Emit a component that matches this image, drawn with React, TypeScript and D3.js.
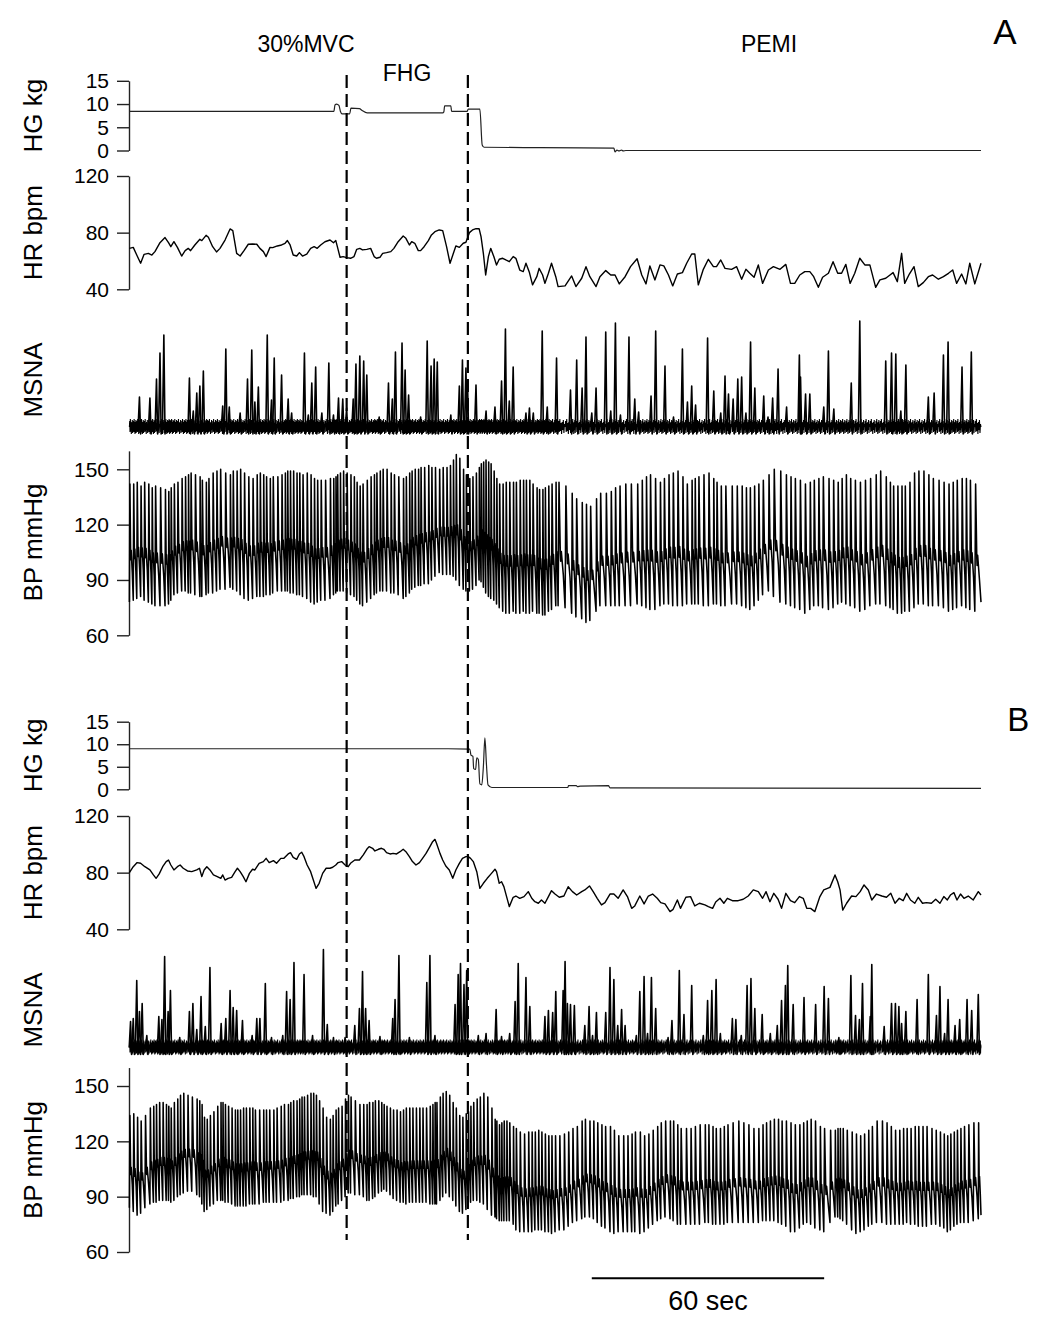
import React, { useEffect, useRef } from "react";
import * as d3 from "d3";

const W = 1050;
const H = 1326;
const T_END = 220; // seconds shown

// phase boundaries (s) and 60-s scale bar
const phaseEvents = [56.2, 87.5];
const scaleBarSec = [119.5, 179.5];

// ---------- Panel A ----------
const hgA: [number, number][] = [[0,8.4],[52.9,8.4],[53.2,9.8],[53.6,10.0],[54.2,9.7],[54.6,8.4],[55.0,7.9],[57.0,7.9],[57.3,9.1],[59.5,9.0],[60.2,8.6],[61.5,8.1],[81.0,8.1],[81.3,8.3],[81.5,9.6],[83.1,9.6],[83.3,8.4],[87.3,8.4],[87.6,8.9],[90.6,8.9],[91.2,1.2],[91.7,0.7],[106,0.6],[125.2,0.5],[125.5,-0.3],[126.0,0.1],[126.5,-0.1],[127.2,0.1],[127.6,-0.1],[128.3,0.0],[220,0.0]];

const hrA: [number, number][] = [[0.1,68.9],[1.1,69.6],[2.0,64.2],[3.0,58.4],[3.9,64.7],[5.0,65.4],[5.9,64.2],[6.7,66.6],[8.0,72.9],[9.3,76.5],[10.2,72.9],[10.8,70.1],[11.6,73.6],[12.5,69.6],[13.6,63.5],[14.5,67.3],[15.3,68.9],[15.9,67.3],[17.0,71.3],[18.3,75.3],[18.8,74.4],[19.9,78.1],[20.5,76.7],[21.6,70.1],[22.6,66.4],[23.5,68.9],[24.8,74.8],[26.1,82.6],[26.8,81.4],[27.8,65.4],[28.7,63.5],[29.7,67.3],[30.8,71.8],[31.9,72.0],[33.0,71.8],[33.8,68.9],[34.7,66.6],[35.4,63.1],[36.4,69.6],[37.1,69.4],[38.3,70.6],[39.4,71.3],[40.3,72.5],[40.9,74.4],[41.6,71.3],[42.4,64.2],[43.3,63.5],[44.0,65.9],[44.8,63.5],[45.9,64.9],[46.9,68.9],[47.8,70.1],[48.6,68.9],[49.5,71.3],[50.6,73.6],[51.9,74.8],[52.8,72.9],[53.4,74.4],[53.8,70.1],[54.5,62.6],[55.3,63.1],[56.2,62.4],[57.2,61.9],[58.1,63.1],[58.8,68.2],[59.6,68.9],[60.3,67.8],[61.4,68.2],[62.4,68.9],[63.3,63.1],[63.9,61.9],[64.8,62.6],[65.5,65.4],[66.5,65.9],[67.6,66.6],[68.4,68.9],[69.5,73.6],[70.8,77.6],[71.5,76.0],[72.4,71.3],[73.0,73.6],[73.8,72.5],[74.7,67.3],[75.3,67.3],[76.2,70.1],[77.3,74.4],[78.1,78.4],[79.0,80.7],[80.1,81.9],[81.0,81.4],[82.0,70.1],[82.9,58.4],[83.7,64.9],[84.4,70.6],[85.3,69.6],[86.3,72.5],[87.0,73.2],[87.9,80.0],[88.7,81.9],[89.6,82.8],[90.4,82.8],[90.9,77.2],[91.5,65.4],[92.1,50.1],[92.8,63.1],[93.4,68.9],[94.2,63.1],[94.9,57.2],[95.6,61.2],[96.5,61.9],[97.3,60.7],[98.2,59.5],[99.2,63.1],[99.9,61.9],[100.9,53.6],[101.8,52.5],[102.5,58.4],[103.4,51.8],[104.2,43.1],[105.3,48.9],[105.9,54.8],[106.8,50.1],[107.4,44.2],[108.3,51.3],[109.1,58.4],[110.2,48.9],[110.8,41.9],[112.6,42.4],[114.3,49.4],[115.4,41.9],[116.9,47.8],[118.0,56.0],[119.0,48.9],[120.6,41.9],[121.6,48.9],[123.1,53.2],[124.4,50.1],[125.5,50.1],[126.6,43.8],[128.1,48.9],[129.5,56.0],[131.2,61.6],[132.4,50.1],[133.5,43.8],[134.5,56.5],[135.8,46.6],[137.1,57.2],[138.1,56.5],[139.3,50.1],[140.4,42.4],[141.6,50.8],[142.9,51.8],[144.0,58.4],[145.3,64.9],[146.1,64.9],[147.0,43.1],[148.3,54.1],[149.6,61.2],[150.9,56.0],[151.7,56.0],[152.8,60.7],[153.9,54.8],[155.6,54.1],[156.9,56.0],[158.2,47.1],[159.3,54.1],[160.3,51.3],[161.4,48.5],[162.5,57.2],[163.6,44.2],[165.1,53.6],[166.4,56.0],[168.1,54.1],[169.6,57.6],[170.8,44.2],[171.9,44.2],[173.2,50.1],[174.5,52.5],[175.8,52.5],[176.8,48.9],[178.0,41.4],[179.1,48.5],[180.6,51.3],[181.8,59.5],[183.0,51.3],[184.0,51.3],[185.1,57.6],[186.2,44.2],[187.4,51.3],[188.7,61.9],[190.0,57.2],[191.3,57.2],[192.8,41.4],[193.9,46.6],[195.4,47.8],[196.5,50.1],[197.3,51.8],[198.4,45.4],[199.5,65.4],[200.3,44.2],[201.5,50.8],[202.7,56.0],[203.8,41.9],[205.1,44.7],[206.4,48.9],[207.5,50.1],[209.0,47.1],[210.3,48.9],[211.6,51.3],[212.7,53.6],[213.7,44.2],[215.0,50.8],[216.1,43.8],[217.1,58.4],[218.4,43.8],[220.0,58.4]];

// beat: [time s, systolic mmHg, diastolic mmHg]
const bpA: [number, number, number][] = [[0.1,142,78],[1.1,142,79],[2.0,143,80],[3.0,141,81],[3.9,143,79],[5.0,142,78],[5.9,140,77],[6.7,141,76],[8.0,140,76],[9.3,139,76],[10.2,138,77],[10.8,140,79],[11.6,142,82],[12.5,143,83],[13.6,145,84],[14.5,146,84],[15.3,147,83],[15.9,148,83],[17.0,147,82],[18.3,146,81],[18.8,144,81],[19.9,143,82],[20.5,145,83],[21.6,148,83],[22.6,149,84],[23.5,150,85],[24.8,148,85],[26.1,147,86],[26.8,149,85],[27.8,149,84],[28.7,150,82],[29.7,148,80],[30.8,146,79],[31.9,145,80],[33.0,147,81],[33.8,148,81],[34.7,147,81],[35.4,146,82],[36.4,145,82],[37.1,146,83],[38.3,146,84],[39.4,147,84],[40.3,148,84],[40.9,149,84],[41.6,149,83],[42.4,149,83],[43.3,148,82],[44.0,148,82],[44.8,147,81],[45.9,148,80],[46.9,147,78],[47.8,145,77],[48.6,144,78],[49.5,144,79],[50.6,144,79],[51.9,145,80],[52.8,145,82],[53.4,146,83],[53.8,147,84],[54.5,148,84],[55.3,149,84],[56.2,148,83],[57.2,147,82],[58.1,146,81],[58.8,143,79],[59.6,141,77],[60.3,142,76],[61.4,144,78],[62.4,146,80],[63.3,147,82],[63.9,148,83],[64.8,149,84],[65.5,150,84],[66.5,150,84],[67.6,148,83],[68.4,147,83],[69.5,146,82],[70.8,145,80],[71.5,146,81],[72.4,148,83],[73.0,149,85],[73.8,150,86],[74.7,150,87],[75.3,151,87],[76.2,151,88],[77.3,152,88],[78.1,151,90],[79.0,151,92],[80.1,150,94],[81.0,151,93],[82.0,151,93],[82.9,152,93],[83.7,155,92],[84.4,158,90],[85.3,156,87],[86.3,150,85],[87.0,147,84],[87.9,145,84],[88.7,146,85],[89.6,148,87],[90.4,151,90],[90.9,153,89],[91.5,154,86],[92.1,155,83],[92.8,154,81],[93.4,153,80],[94.2,149,79],[94.9,145,77],[95.6,142,75],[96.5,142,73],[97.3,143,72],[98.2,143,72],[99.2,143,73],[99.9,143,72],[100.9,144,72],[101.8,144,73],[102.5,144,72],[103.4,144,72],[104.2,142,73],[105.3,140,72],[105.9,139,72],[106.8,139,71],[107.4,140,71],[108.3,141,73],[109.1,142,74],[110.2,143,76],[110.8,143,76],[112.6,141,75],[114.3,137,72],[115.4,134,70],[116.9,132,69],[118.0,131,67],[119.0,130,68],[120.6,134,73],[121.6,137,76],[123.1,137,76],[124.4,138,76],[125.5,140,76],[126.6,141,76],[128.1,142,76],[129.5,142,76],[131.2,142,77],[132.4,144,76],[133.5,146,75],[134.5,147,74],[135.8,145,74],[137.1,143,76],[138.1,145,77],[139.3,147,77],[140.4,148,76],[141.6,149,76],[142.9,146,76],[144.0,142,77],[145.3,144,77],[146.1,145,77],[147.0,146,77],[148.3,147,76],[149.6,148,76],[150.9,145,77],[151.7,143,77],[152.8,141,76],[153.9,141,76],[155.6,141,77],[156.9,141,77],[158.2,141,76],[159.3,140,75],[160.3,140,74],[161.4,141,76],[162.5,142,79],[163.6,144,82],[165.1,147,84],[166.4,150,81],[168.1,149,78],[169.6,147,77],[170.8,146,76],[171.9,145,75],[173.2,144,74],[174.5,142,72],[175.8,143,74],[176.8,144,76],[178.0,145,76],[179.1,146,75],[180.6,145,74],[181.8,144,75],[183.0,143,77],[184.0,145,78],[185.1,147,77],[186.2,145,76],[187.4,144,75],[188.7,143,73],[190.0,144,74],[191.3,145,76],[192.8,147,77],[193.9,149,77],[195.4,146,76],[196.5,143,75],[197.3,141,74],[198.4,141,72],[199.5,141,72],[200.3,141,73],[201.5,143,73],[202.7,148,75],[203.8,149,77],[205.1,149,77],[206.4,147,76],[207.5,145,76],[209.0,144,76],[210.3,143,75],[211.6,142,73],[212.7,143,74],[213.7,144,75],[215.0,145,76],[216.1,145,75],[217.1,144,74],[218.4,142,73],[220.0,141,78]];

// MSNA bursts: [time s, amplitude a.u.]
const msnaA: [number, number][] = [[2.7,30],[5.4,29],[7.1,48],[8.0,74],[9.0,92],[15.6,49],[16.6,16],[17.5,34],[18.3,41],[19.2,56],[24.2,21],[25.0,78],[25.9,20],[28.7,14],[30.6,48],[31.7,77],[32.5,25],[33.4,40],[35.7,92],[36.8,27],[37.5,69],[39.4,52],[41.1,28],[42.0,14],[45.3,74],[46.3,12],[47.2,44],[48.2,60],[49.8,14],[51.6,64],[52.8,12],[54.1,29],[55.2,28],[56.2,19],[57.9,28],[58.6,63],[59.6,71],[60.6,66],[61.4,52],[64.6,10],[67.0,44],[68.0,28],[68.8,75],[70.5,84],[71.3,57],[72.2,32],[75.3,10],[77.0,86],[78.0,61],[78.8,68],[79.6,65],[83.1,12],[85.3,41],[86.1,67],[87.0,59],[87.4,47],[89.6,42],[92.2,16],[94.5,20],[96.2,46],[97.2,98],[98.2,26],[99.2,60],[102.5,14],[103.4,19],[104.4,14],[106.7,96],[108.0,20],[110.4,69],[114.0,37],[115.6,67],[117.0,39],[118.0,90],[119.5,14],[120.6,39],[123.1,95],[124.4,16],[125.6,104],[126.9,12],[129.1,90],[130.6,28],[131.6,15],[134.8,31],[136.0,96],[138.4,61],[140.6,10],[142.9,78],[144.2,25],[145.3,41],[146.3,22],[149.4,89],[151.0,36],[152.8,14],[153.9,51],[154.8,33],[156.0,28],[157.2,48],[158.2,50],[159.3,14],[160.5,85],[161.6,39],[163.9,31],[165.0,10],[166.2,29],[167.6,58],[169.8,20],[173.1,72],[173.4,50],[174.7,33],[175.8,33],[179.4,20],[180.6,76],[182.0,18],[186.5,44],[188.7,106],[195.4,66],[196.9,74],[198.0,73],[199.3,16],[200.6,62],[206.4,30],[207.9,34],[210.3,72],[211.5,85],[215.1,60],[217.5,75]];

// ---------- Panel B ----------
const hgB: [number, number][] = [[0,9.0],[82.4,9.0],[88.0,8.9],[88.3,7.6],[88.8,7.3],[89.0,4.6],[89.5,4.4],[89.8,7.0],[90.2,6.6],[90.6,1.2],[91.1,1.0],[91.5,5.0],[91.9,11.4],[92.3,5.5],[92.7,1.0],[93.7,0.4],[113.3,0.4],[113.5,0.8],[115.5,0.8],[115.8,0.6],[116.5,0.7],[123.8,0.8],[124.2,0.3],[220,0.2]];

const hrB: [number, number][] = [[0.1,80.0],[1.1,84.2],[2.1,87.1],[3.0,86.6],[4.1,84.2],[5.4,81.9],[6.3,78.4],[7.0,76.0],[7.8,79.1],[8.7,84.2],[9.6,87.8],[10.2,88.9],[10.8,85.4],[11.6,81.9],[12.5,84.2],[13.2,85.4],[14.0,83.1],[15.1,81.2],[16.2,80.7],[17.5,81.9],[18.2,83.1],[18.8,77.2],[19.4,81.9],[20.1,84.2],[20.9,81.9],[21.8,78.4],[22.8,77.2],[23.7,76.0],[24.2,78.4],[24.8,74.8],[25.6,76.0],[26.5,76.7],[27.4,80.7],[28.0,83.1],[28.7,80.7],[29.5,77.2],[30.2,73.6],[31.1,79.5],[31.9,82.4],[32.5,81.9],[33.6,86.6],[34.7,87.8],[35.4,90.1],[36.2,87.1],[37.3,88.5],[38.1,86.6],[39.2,90.1],[40.0,90.1],[41.1,93.2],[41.7,94.1],[42.4,90.8],[43.3,89.4],[44.0,93.2],[44.6,94.4],[45.2,91.3],[46.0,85.4],[46.9,80.7],[47.6,74.8],[48.3,68.9],[49.1,72.5],[50.0,79.5],[50.9,83.1],[51.9,83.1],[52.6,83.8],[53.4,85.4],[54.0,87.1],[54.9,87.8],[55.8,85.4],[56.6,84.2],[57.2,86.6],[58.3,88.9],[59.5,88.9],[60.5,92.5],[61.4,96.5],[62.0,98.4],[62.9,97.2],[63.5,95.3],[64.4,96.5],[65.2,97.2],[65.8,96.5],[66.5,94.1],[67.4,93.2],[68.2,93.6],[69.1,93.2],[70.0,94.8],[70.8,96.5],[71.5,94.8],[72.4,91.3],[73.2,87.8],[74.1,85.4],[75.0,87.1],[75.8,90.1],[76.7,93.6],[77.7,98.4],[78.4,101.9],[79.0,103.5],[79.4,100.7],[80.3,93.6],[81.0,88.9],[81.8,84.7],[82.7,81.9],[83.6,76.0],[84.4,81.9],[85.3,86.6],[86.1,90.1],[87.0,91.3],[87.6,91.3],[88.2,90.1],[88.9,87.8],[89.8,80.7],[90.6,68.9],[91.5,72.5],[92.5,76.0],[93.6,79.5],[94.5,82.4],[94.9,80.7],[95.6,72.5],[96.2,73.6],[96.8,70.1],[97.5,63.1],[98.2,56.0],[99.2,62.6],[99.9,63.5],[100.9,61.9],[102.0,63.1],[103.1,66.6],[104.0,61.9],[104.8,59.5],[105.7,58.4],[106.5,60.7],[107.4,58.4],[108.3,63.1],[109.1,67.3],[110.0,64.9],[111.1,62.6],[112.3,63.5],[113.4,70.1],[114.5,66.6],[115.6,64.2],[116.9,66.6],[117.7,67.8],[118.9,70.6],[119.9,66.4],[120.9,61.9],[122.0,57.2],[122.9,58.8],[124.2,64.9],[125.2,64.9],[126.3,61.9],[127.6,67.8],[128.7,63.1],[129.8,54.8],[130.6,56.5],[131.9,63.5],[133.0,57.9],[134.1,63.5],[135.2,64.9],[136.4,61.9],[137.3,58.8],[138.4,57.9],[139.7,52.5],[140.5,54.1],[141.6,60.7],[142.4,54.8],[143.8,62.6],[145.0,63.1],[146.1,56.5],[147.3,58.4],[148.7,57.2],[149.6,56.0],[150.7,54.8],[151.5,59.3],[152.6,61.9],[153.6,58.4],[154.5,61.9],[155.8,60.2],[157.3,60.2],[158.6,61.2],[159.9,63.5],[161.2,67.8],[162.5,66.6],[163.6,61.9],[164.5,66.6],[165.5,59.5],[166.5,65.4],[167.6,61.2],[168.5,54.8],[169.6,65.4],[170.8,60.2],[171.9,58.8],[173.1,63.1],[174.1,61.9],[175.0,54.8],[176.0,54.8],[177.1,52.5],[178.4,63.1],[179.4,67.8],[181.0,69.6],[182.3,78.4],[183.0,73.6],[183.6,67.8],[184.3,53.6],[185.3,58.4],[186.6,63.5],[187.7,63.1],[188.8,66.6],[189.8,71.3],[190.9,67.8],[191.8,60.7],[193.0,64.9],[194.4,63.5],[195.6,62.6],[196.7,65.4],[197.8,58.4],[198.9,61.9],[199.9,60.2],[200.8,65.4],[201.8,60.7],[202.9,58.4],[203.8,62.6],[204.9,58.4],[205.9,58.8],[207.2,58.4],[208.3,61.2],[209.4,58.4],[210.4,63.1],[211.3,60.7],[212.1,64.2],[213.0,65.9],[213.8,60.7],[214.7,64.9],[215.6,61.9],[216.7,63.5],[218.0,60.7],[219.3,66.6],[220.0,64.2]];

const bpB: [number, number, number][] = [[0.1,134,84],[1.1,135,82],[2.1,133,80],[3.0,131,81],[4.1,134,84],[5.4,138,86],[6.3,139,87],[7.0,140,87],[7.8,141,88],[8.7,141,88],[9.6,140,88],[10.2,139,88],[10.8,138,87],[11.6,141,88],[12.5,143,90],[13.2,145,91],[14.0,146,92],[15.1,145,93],[16.2,144,93],[17.5,143,91],[18.2,142,90],[18.8,140,86],[19.4,133,82],[20.1,132,83],[20.9,134,85],[21.8,136,86],[22.8,139,88],[23.7,141,88],[24.2,141,88],[24.8,140,87],[25.6,139,87],[26.5,138,86],[27.4,137,85],[28.0,137,85],[28.7,137,85],[29.5,138,85],[30.2,138,85],[31.1,138,86],[31.9,138,86],[32.5,137,86],[33.6,137,86],[34.7,137,87],[35.4,137,87],[36.2,137,87],[37.3,137,87],[38.1,138,87],[39.2,139,87],[40.0,140,88],[41.1,140,88],[41.7,141,89],[42.4,142,89],[43.3,142,90],[44.0,143,90],[44.6,144,91],[45.2,144,91],[46.0,145,91],[46.9,146,91],[47.6,146,90],[48.3,145,90],[49.1,142,86],[50.0,138,82],[50.9,133,81],[51.9,132,80],[52.6,134,82],[53.4,137,85],[54.0,138,86],[54.9,139,88],[55.8,143,90],[56.6,145,92],[57.2,144,92],[58.3,142,91],[59.5,140,91],[60.5,140,90],[61.4,140,88],[62.0,141,88],[62.9,141,89],[63.5,142,90],[64.4,142,92],[65.2,141,93],[65.8,140,94],[66.5,139,93],[67.4,138,91],[68.2,137,89],[69.1,137,88],[70.0,136,87],[70.8,137,87],[71.5,138,86],[72.4,138,87],[73.2,138,87],[74.1,138,87],[75.0,138,87],[75.8,138,87],[76.7,138,87],[77.7,139,86],[78.4,140,86],[79.0,141,86],[79.4,141,86],[80.3,144,88],[81.0,146,90],[81.8,147,92],[82.7,145,90],[83.6,141,88],[84.4,138,85],[85.3,134,82],[86.1,133,81],[87.0,135,83],[87.6,136,85],[88.2,139,87],[88.9,141,88],[89.8,143,88],[90.6,144,87],[91.5,146,86],[92.5,144,83],[93.6,138,80],[94.5,132,79],[94.9,131,78],[95.6,129,77],[96.2,130,77],[96.8,131,77],[97.5,131,77],[98.2,130,77],[99.2,128,75],[99.9,127,72],[100.9,125,71],[102.0,124,71],[103.1,125,71],[104.0,125,71],[104.8,125,72],[105.7,126,72],[106.5,125,72],[107.4,124,71],[108.3,123,71],[109.1,123,70],[110.0,123,71],[111.1,123,72],[112.3,124,72],[113.4,125,74],[114.5,127,76],[115.6,128,77],[116.9,131,78],[117.7,132,79],[118.9,131,79],[119.9,131,78],[120.9,130,76],[122.0,129,74],[122.9,128,73],[124.2,128,71],[125.2,126,70],[126.3,123,71],[127.6,123,71],[128.7,123,71],[129.8,124,71],[130.6,125,71],[131.9,125,70],[133.0,123,71],[134.1,124,73],[135.2,126,75],[136.4,128,77],[137.3,130,78],[138.4,131,79],[139.7,131,78],[140.5,131,77],[141.6,129,75],[142.4,127,75],[143.8,127,75],[145.0,127,75],[146.1,128,75],[147.3,129,75],[148.7,129,76],[149.6,129,76],[150.7,128,75],[151.5,127,75],[152.6,127,75],[153.6,128,75],[154.5,129,76],[155.8,130,76],[157.3,131,76],[158.6,130,76],[159.9,129,76],[161.2,127,76],[162.5,127,76],[163.6,129,77],[164.5,130,77],[165.5,131,77],[166.5,132,77],[167.6,132,76],[168.5,131,75],[169.6,131,74],[170.8,130,71],[171.9,129,71],[173.1,129,73],[174.1,130,75],[175.0,131,76],[176.0,132,75],[177.1,131,73],[178.4,128,72],[179.4,127,71],[181.0,126,76],[182.3,126,79],[183.0,127,79],[183.6,127,78],[184.3,127,77],[185.3,126,75],[186.6,125,72],[187.7,124,70],[188.8,123,71],[189.8,124,72],[190.9,126,74],[191.8,128,75],[193.0,131,76],[194.4,131,76],[195.6,130,75],[196.7,128,75],[197.8,126,75],[198.9,126,75],[199.9,127,75],[200.8,127,76],[201.8,127,75],[202.9,128,75],[203.8,128,74],[204.9,128,74],[205.9,128,74],[207.2,127,75],[208.3,126,75],[209.4,125,74],[210.4,124,73],[211.3,123,71],[212.1,124,72],[213.0,125,74],[213.8,126,75],[214.7,127,76],[215.6,128,76],[216.7,129,76],[218.0,130,77],[219.3,130,78],[220.0,131,80]];

const msnaB: [number, number][] = [[0.4,26],[1.1,29],[2.0,67],[2.7,36],[3.4,44],[4.6,12],[7.7,31],[8.5,28],[9.2,91],[10.1,36],[10.7,57],[13.1,10],[15.6,36],[16.5,44],[17.5,18],[18.6,51],[19.7,21],[20.9,80],[23.8,24],[25.0,29],[26.1,57],[26.9,40],[27.8,37],[29.3,27],[31.8,12],[33.0,29],[33.8,29],[35.2,64],[36.8,10],[39.7,12],[40.7,56],[41.6,48],[42.6,85],[45.2,73],[47.4,12],[50.2,98],[51.2,23],[52.8,10],[55.8,10],[58.3,22],[59.5,39],[60.3,76],[61.1,39],[62.0,27],[64.8,11],[68.1,29],[68.7,48],[69.7,92],[72.4,10],[76.9,65],[77.7,92],[79.0,12],[84.2,43],[85.0,73],[85.6,84],[86.5,63],[87.2,77],[90.2,12],[92.2,14],[94.8,38],[96.2,11],[98.3,14],[99.7,46],[100.5,84],[102.5,70],[103.5,41],[107.4,31],[108.3,37],[109.4,35],[110.2,56],[112.1,57],[112.6,86],[113.2,44],[114.0,43],[115.0,42],[117.7,22],[118.8,41],[119.7,12],[120.7,35],[123.1,35],[124.2,80],[125.2,68],[126.2,22],[127.2,38],[128.1,22],[131.0,12],[131.9,56],[133.0,71],[133.9,14],[134.9,70],[136.0,39],[139.2,10],[140.2,27],[142.1,77],[143.3,33],[145.3,62],[148.3,12],[149.4,47],[150.5,57],[151.6,68],[152.7,14],[155.8,29],[156.7,28],[158.1,12],[159.6,62],[160.6,69],[161.6,39],[163.5,33],[165.6,14],[167.4,22],[168.5,47],[169.5,62],[170.1,82],[171.5,43],[174.3,50],[177.3,43],[179.5,61],[180.6,49],[183.3,10],[186.4,72],[187.6,32],[188.6,28],[189.4,64],[191.4,31],[191.8,83],[195.0,21],[196.9,44],[197.9,44],[198.8,41],[199.5,24],[200.6,36],[203.5,48],[206.4,73],[208.5,32],[209.4,61],[210.6,14],[211.5,48],[213.3,22],[214.5,28],[216.4,48],[217.6,37],[219.3,53]];

const hgTicks = [0, 5, 10, 15];
const hrTicks = [40, 80, 120];
const bpTicks = [60, 90, 120, 150];

const FONT = "'Liberation Sans', Arial, Helvetica, sans-serif";

export default function App() {
  const ref = useRef<SVGSVGElement>(null);

  useEffect(() => {
    const svg = d3.select(ref.current);
    svg.selectAll("*").remove();

    const AX = 129;
    const x = d3.scaleLinear().domain([0, T_END]).range([AX, 981]);

    const panels = [
      {
        hg: hgA, hr: hrA, bp: bpA, msna: msnaA,
        yHG: d3.scaleLinear().domain([0, 15]).range([150.5, 80.8]),
        yHR: d3.scaleLinear().domain([40, 120]).range([289.3, 176]),
        yBP: d3.scaleLinear().domain([60, 160]).range([635.3, 635.3 - 100 * 1.8444]),
        yMS: d3.scaleLinear().domain([0, 100]).range([427, 327]),
        titleY: { hg: 115.6, hr: 232.7, ms: 380, bp: 542.5 },
      },
      {
        hg: hgB, hr: hrB, bp: bpB, msna: msnaB,
        yHG: d3.scaleLinear().domain([0, 15]).range([789.3, 721.7]),
        yHR: d3.scaleLinear().domain([40, 120]).range([929.3, 816]),
        yBP: d3.scaleLinear().domain([60, 160]).range([1252, 1252 - 100 * 1.8444]),
        yMS: d3.scaleLinear().domain([0, 100]).range([1047.5, 947.5]),
        titleY: { hg: 755.5, hr: 872.7, ms: 1010, bp: 1160 },
      },
    ];

    const drawAxis = (scale: any, ticks: number[]) => {
      const ax = d3.axisLeft(scale).tickValues(ticks).tickSize(12).tickSizeOuter(0).tickPadding(8).tickFormat(d3.format("d"));
      const g = svg.append("g").attr("transform", `translate(${AX},0)`).call(ax as any);
      g.attr("font-size", null).attr("font-family", null);
      g.select(".domain").attr("stroke", "#222").attr("stroke-width", 1.4);
      g.selectAll(".tick line").attr("stroke", "#222").attr("stroke-width", 1.4);
      g.selectAll(".tick text").attr("font-size", 21).attr("font-family", FONT).attr("fill", "#000");
    };

    const title = (label: string, cy: number) => {
      svg.append("text").attr("transform", `translate(42,${cy}) rotate(-90)`)
        .attr("text-anchor", "middle").attr("font-family", FONT).attr("font-size", 26).attr("fill", "#000").text(label);
    };

    // arterial pressure pulse glyph (fractions of beat interval / pulse pressure)
    const bpPoints = (beats: [number, number, number][]) => {
      const pts: [number, number][] = [];
      beats.forEach((b, i) => {
        const [t, s, d] = b;
        const nxt = beats[i + 1];
        const D = nxt ? nxt[0] - t : 1.0;
        const P = s - d;
        pts.push([t, d]);
        pts.push([t + 0.13 * D, s]);
        pts.push([t + 0.32 * D, d + 0.42 * P]);
        pts.push([t + 0.37 * D, d + 0.36 * P]);
        pts.push([t + 0.46 * D, d + 0.44 * P]);
        pts.push([t + 0.75 * D, d + 0.25 * P]);
      });
      return pts.filter((p) => p[0] <= T_END);
    };

    panels.forEach((p) => {
      // HG
      drawAxis(p.yHG, hgTicks);
      const lineHG = d3.line<[number, number]>().x((d) => x(d[0])).y((d) => p.yHG(d[1])).curve(d3.curveMonotoneX);
      svg.append("path").attr("d", lineHG(p.hg)).attr("fill", "none").attr("stroke", "#222").attr("stroke-width", 1.2);
      title("HG kg", p.titleY.hg);

      // HR
      drawAxis(p.yHR, hrTicks);
      const lineHR = d3.line<[number, number]>().x((d) => x(d[0])).y((d) => p.yHR(d[1]));
      svg.append("path").attr("d", lineHR(p.hr)).attr("fill", "none").attr("stroke", "#000").attr("stroke-width", 1.4).attr("stroke-linejoin", "round");
      title("HR bpm", p.titleY.hr);

      // MSNA: baseline noise glyph repeated each cardiac cycle + bursts
      const noiseGlyph = [0, 6, -5, 8, -4, 4, -7, 5, -3, 7, -6, 3];
      const base: [number, number][] = [];
      p.bp.forEach((b, i) => {
        const nxt = p.bp[i + 1];
        const D = nxt ? nxt[0] - b[0] : 1.0;
        noiseGlyph.forEach((o, k) => {
          const t = b[0] + (k / noiseGlyph.length) * D;
          if (t <= T_END) base.push([t, o]);
        });
      });
      const lineMS = d3.line<[number, number]>().x((d) => x(d[0])).y((d) => p.yMS(d[1]));
      svg.append("path").attr("d", lineMS(base)).attr("fill", "none").attr("stroke", "#000").attr("stroke-width", 1.1);
      p.msna.forEach(([t, a]) => {
        const spike: [number, number][] = [[t - 0.35, 0], [t, a], [t + 0.3, -7], [t + 0.55, 0]];
        svg.append("path").attr("d", lineMS(spike)).attr("fill", "none").attr("stroke", "#000").attr("stroke-width", 1.6).attr("stroke-linejoin", "round");
      });
      title("MSNA", p.titleY.ms);

      // BP
      drawAxis(p.yBP, bpTicks);
      const lineBP = d3.line<[number, number]>().x((d) => x(d[0])).y((d) => p.yBP(d[1]));
      svg.append("path").attr("d", lineBP(bpPoints(p.bp))).attr("fill", "none").attr("stroke", "#000").attr("stroke-width", 1.55).attr("stroke-linejoin", "round");
      title("BP mmHg", p.titleY.bp);
    });

    // dashed phase markers
    phaseEvents.forEach((t) => {
      svg.append("line").attr("x1", x(t)).attr("x2", x(t)).attr("y1", 75).attr("y2", 1240)
        .attr("stroke", "#000").attr("stroke-width", 2.2).attr("stroke-dasharray", "13,6");
    });

    const label = (txt: string, cx: number, by: number, size: number) => {
      svg.append("text").attr("x", cx).attr("y", by).attr("text-anchor", "middle")
        .attr("font-family", FONT).attr("font-size", size).attr("fill", "#000").text(txt);
    };
    label("30%MVC", 306, 52.3, 23);
    label("FHG", 407, 81, 23);
    label("PEMI", 769, 51.7, 23);
    label("A", 1005, 44.3, 35);
    label("B", 1018.3, 731, 33);

    // scale bar
    svg.append("line").attr("x1", x(scaleBarSec[0])).attr("x2", x(scaleBarSec[1])).attr("y1", 1278.3).attr("y2", 1278.3)
      .attr("stroke", "#000").attr("stroke-width", 2);
    label(`${scaleBarSec[1] - scaleBarSec[0]} sec`, (x(scaleBarSec[0]) + x(scaleBarSec[1])) / 2, 1310, 27);
  }, []);

  return (
    <svg ref={ref} width={W} height={H} style={{ position: "absolute", left: 0, top: 0, display: "block", background: "#fff" }} />
  );
}
